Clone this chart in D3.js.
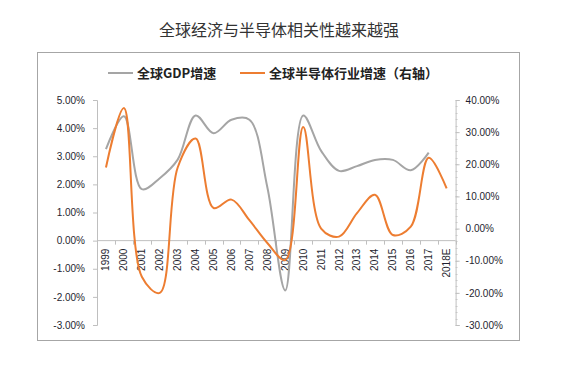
<!DOCTYPE html>
<html>
<head>
<meta charset="utf-8">
<script src="https://cdnjs.cloudflare.com/ajax/libs/d3/7.8.5/d3.min.js"></script>
<style>
  body { margin: 0; background: #fff; }
  .tickText { font-family: "Liberation Sans", Arial, sans-serif; font-size: 10px; fill: #1f1f2f; }
</style>
</head>
<body>
<div id="chart"></div>
<script>
// Data
var years = ["1999", "2000", "2001", "2002", "2003", "2004", "2005", "2006", "2007", "2008",
  "2009", "2010", "2011", "2012", "2013", "2014", "2015", "2016", "2017", "2018E"];
// global GDP growth, % (left axis)
var gdpGrowth = [3.25, 4.42, 1.83, 2.22, 2.88, 4.45, 3.82, 4.3, 4.3, 1.9,
  -1.77, 4.45, 3.19, 2.48, 2.65, 2.87, 2.87, 2.5, 3.13, null];
// global semiconductor growth, % (right axis)
var semiGrowth = [19, 37.5, -15, -20, 19, 28, 6.4, 9, 2.6, -4.5,
  -9.8, 31.6, 0, -2.5, 4.8, 10.5, -2, 0.6, 22, 12.5];
var leftTicks = [-3, -2, -1, 0, 1, 2, 3, 4, 5];
var rightTicks = [-30, -20, -10, 0, 10, 20, 30, 40];

var svgWidth = 573;
var svgHeight = 365;

var margin = { top: 100, right: 117, bottom: 40, left: 97 };
var chartWidth = 455.6 - margin.left;
var chartHeight = 325 - margin.top;

var svg = d3.select("#chart")
  .append("svg")
  .attr("width", svgWidth)
  .attr("height", svgHeight);

// outer frame and title
svg.append("rect")
  .attr("x", 37.5)
  .attr("y", 52.5)
  .attr("width", 482)
  .attr("height", 288)
  .attr("fill", "none")
  .attr("stroke", "#a6a6a6")
  .attr("stroke-width", 1);

svg.append("text")
  .attr("x", 279)
  .attr("y", 36)
  .attr("text-anchor", "middle")
  .attr("font-family", "Noto Sans CJK SC")
  .attr("font-size", 16)
  .attr("fill", "#333")
  .text("全球经济与半导体相关性越来越强");

var chartGroup = svg.append("g")
  .attr("transform", `translate(${margin.left}, ${margin.top})`);

// Scales
var xScale = d3.scaleBand()
  .domain(years)
  .range([0, chartWidth]);

var yLeft = d3.scaleLinear()
  .domain([-3, 5])
  .range([chartHeight, 0]);

var yRight = d3.scaleLinear()
  .domain([-30, 40])
  .range([chartHeight, 0]);

var axisColor = "#bfbfbf";

// Left axis
var leftAxis = d3.axisLeft(yLeft)
  .tickValues(leftTicks)
  .tickSize(4)
  .tickPadding(8)
  .tickFormat(d => d.toFixed(2) + "%");

var gLeft = chartGroup.append("g").call(leftAxis);
gLeft.select(".domain").attr("stroke", axisColor);
gLeft.selectAll(".tick line").attr("stroke", axisColor);
gLeft.selectAll(".tick text").attr("class", "tickText");

// Right axis with minor ticks
var minorTicks = d3.range(-30, 40.1, 2);
chartGroup.append("g")
  .attr("transform", `translate(${chartWidth}, 0)`)
  .selectAll("line")
  .data(minorTicks)
  .enter()
  .append("line")
  .attr("x1", 0)
  .attr("x2", 2)
  .attr("y1", d => Math.round(yRight(d)) + 0.5)
  .attr("y2", d => Math.round(yRight(d)) + 0.5)
  .attr("stroke", "#d0d0d0");

var rightAxis = d3.axisRight(yRight)
  .tickValues(rightTicks)
  .tickSize(4)
  .tickPadding(6)
  .tickFormat(d => d.toFixed(2) + "%");

var gRight = chartGroup.append("g")
  .attr("transform", `translate(${chartWidth}, 0)`)
  .call(rightAxis);
gRight.select(".domain").attr("stroke", axisColor);
gRight.selectAll(".tick line").attr("stroke", axisColor);
gRight.selectAll(".tick text").attr("class", "tickText");

// Category axis sitting on the 0% line of the left axis
var gX = chartGroup.append("g")
  .attr("transform", `translate(0, ${yLeft(0)})`);

gX.append("line")
  .attr("x1", 0)
  .attr("x2", chartWidth)
  .attr("stroke", axisColor);

gX.selectAll(".xtick")
  .data(years.concat(["end"]))
  .enter()
  .append("line")
  .attr("class", "xtick")
  .attr("x1", (d, i) => Math.round(i * xScale.bandwidth()) + 0.5)
  .attr("x2", (d, i) => Math.round(i * xScale.bandwidth()) + 0.5)
  .attr("y1", 0)
  .attr("y2", 4)
  .attr("stroke", axisColor);

gX.selectAll(".xlabel")
  .data(years)
  .enter()
  .append("text")
  .attr("class", "tickText")
  .attr("text-anchor", "end")
  .attr("transform", d => `translate(${xScale(d) + xScale.bandwidth() / 2 + 3.5}, 8) rotate(-90)`)
  .text(d => d);

// Lines (Excel-style smoothing, centripetal to limit overshoot)
var gdpLine = d3.line()
  .defined(d => d !== null)
  .x((d, i) => xScale(years[i]) + xScale.bandwidth() / 2)
  .y(d => yLeft(d))
  .curve(d3.curveCatmullRom.alpha(0.5));

var semiLine = d3.line()
  .x((d, i) => xScale(years[i]) + xScale.bandwidth() / 2)
  .y(d => yRight(d))
  .curve(d3.curveCatmullRom.alpha(0.5));

chartGroup.append("path")
  .datum(gdpGrowth)
  .attr("d", gdpLine)
  .attr("fill", "none")
  .attr("stroke", "#a5a5a5")
  .attr("stroke-width", 2);

chartGroup.append("path")
  .datum(semiGrowth)
  .attr("d", semiLine)
  .attr("fill", "none")
  .attr("stroke", "#ed7d31")
  .attr("stroke-width", 2);

// Legend
var legendItems = [
  { label: "全球GDP增速", color: "#a5a5a5", x: 108 },
  { label: "全球半导体行业增速（右轴）", color: "#ed7d31", x: 240 }
];

var legend = svg.selectAll(".legend")
  .data(legendItems)
  .enter()
  .append("g")
  .attr("class", "legend")
  .attr("transform", d => `translate(${d.x}, 73)`);

legend.append("line")
  .attr("x1", 0)
  .attr("x2", 25)
  .attr("y1", 0)
  .attr("y2", 0)
  .attr("stroke", d => d.color)
  .attr("stroke-width", 2);

legend.append("text")
  .attr("x", 29)
  .attr("y", 4.5)
  .attr("font-family", "Noto Sans CJK SC")
  .attr("font-weight", "bold")
  .attr("font-size", 13)
  .attr("fill", "#222")
  .text(d => d.label);
</script>
</body>
</html>
